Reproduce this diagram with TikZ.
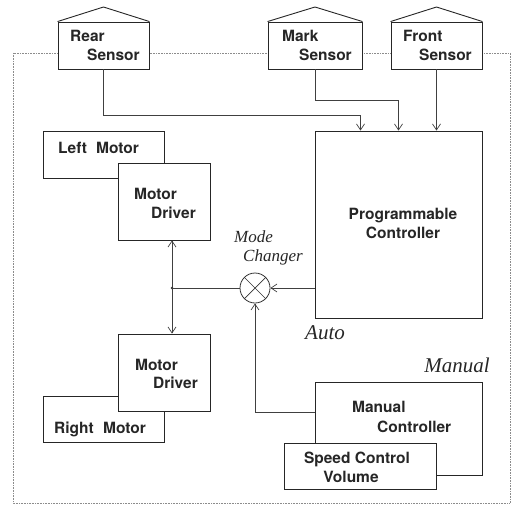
\documentclass[tikz,border=0pt]{standalone}
\usepackage{fontspec}
\newfontfamily\hv{TeX Gyre Heros}
\newfontfamily\tms{Liberation Serif}
\usetikzlibrary{arrows.meta,calc}
\begin{document}
\begin{tikzpicture}[x=1pt,y=-1pt,
  box/.style={draw=black!85,fill=white,line width=0.9pt,inner sep=0pt,rectangle},
  lbl/.style={inner sep=0pt,anchor=west,text height=11pt,text depth=0pt,font=\hv\bfseries\fontsize{15.5}{18}\selectfont,text=black!85},
  clbl/.style={lbl,anchor=center},
  itl/.style={inner sep=0pt,anchor=west,text height=11pt,text depth=0pt,font=\tms\fontsize{17}{20}\selectfont\itshape,text=black!85},
  bitl/.style={inner sep=0pt,text height=13pt,text depth=0pt,font=\tms\fontsize{21}{24}\selectfont\itshape,text=black!85},
  conn/.style={draw=black!75,line width=0.7pt},
  arr/.style={conn,-{Straight Barb[length=6pt,width=8pt,line width=0.7pt]}},
  darr/.style={conn,{Straight Barb[length=6pt,width=8pt,line width=0.7pt]}-{Straight Barb[length=6pt,width=8pt,line width=0.7pt]}},
  roof/.style={draw=black!85,fill=white,line width=0.9pt,line join=miter}]
\useasboundingbox (0,0) rectangle (521,508);
% dotted border
\draw[densely dotted,black!45,line width=0.6pt] (13,53) rectangle (510,503);

% sensors (houses)
\node[box,minimum width=91pt,minimum height=47pt] (rear) at (103.5,45.5) {};
\draw[roof] (rear.north west) -- (103.5,7) -- (rear.north east);
\node[box,minimum width=94pt,minimum height=47pt] (mark) at (315,45.5) {};
\draw[roof] (mark.north west) -- (315,7) -- (mark.north east);
\node[box,minimum width=91pt,minimum height=47pt] (front) at (436.5,45.5) {};
\draw[roof] (front.north west) -- (436.5,7) -- (front.north east);
\node[lbl] (t1) at (70,36) {Rear};
\node[lbl] (t2) at (87,55) {Sensor};
\node[lbl] (t3) at (282,36) {Mark};
\node[lbl] (t4) at (299,55) {Sensor};
\node[lbl] (t5) at (403,36) {Front};
\node[lbl] (t6) at (419,55) {Sensor};

% programmable controller
\node[box,minimum width=167pt,minimum height=187pt] (pc) at (398.5,224.5) {};
\node[clbl] (t7) at (403,214) {Programmable};
\node[clbl] (t8) at (403,233) {Controller};

% sensor connectors
\draw[arr] (rear.south) -- ++(0,46) -| ([xshift=-38pt]pc.north);
\draw[arr] (mark.south) -- ++(0,31) -| (pc.north);
\draw[arr] (front.south) -- (front.south |- pc.north);

% left motor + driver
\node[box,minimum width=121pt,minimum height=47pt] (lm) at (103.5,154.5) {};
\node[lbl] (t9) at (58,148) {Left\hspace{0.6em}Motor};
\node[box,minimum width=92pt,minimum height=77pt] (md1) at (164,201.5) {};
\node[lbl] (t10) at (134,194) {Motor};
\node[lbl] (t11) at (151,213) {Driver};

% right motor + driver
\node[box,minimum width=121pt,minimum height=46pt] (rm) at (103.5,419) {};
\node[lbl] (t12) at (54,428) {Right\hspace{0.6em}Motor};
\node[box,minimum width=92pt,minimum height=77pt] (md2) at (164,372.5) {};
\node[lbl] (t13) at (135,365) {Motor};
\node[lbl] (t14) at (153,383) {Driver};

% manual controller + speed control
\node[box,minimum width=167pt,minimum height=93pt] (man) at (398.5,428.5) {};
\node[lbl] (t15) at (352,407) {Manual};
\node[lbl] (t16) at (377,427) {Controller};
\node[box,minimum width=152pt,minimum height=46pt] (spd) at (360,466) {};
\node[clbl] (t17) at (357,458) {Speed Control};
\node[clbl] (t18) at (351,477) {Volume};

% mode changer
\node[draw=black!80,line width=0.8pt,circle,minimum size=30pt,inner sep=0pt,fill=white] (mc) at (255,288) {};
\draw[black!80,line width=0.7pt] (mc.north west) -- (mc.south east) (mc.north east) -- (mc.south west);
\node[itl] (t19) at (234,237) {Mode};
\node[itl] (t20) at (243,256) {Changer};
\node[bitl,anchor=west] (t21) at (305,333) {Auto};
\node[bitl,anchor=east] (t22) at (490,366) {Manual};

% connectors around mode changer
\draw[darr] ([xshift=8pt]md1.south) -- ([xshift=8pt]md2.north);
\coordinate (j) at ([xshift=8pt]md1.south |- mc);
\fill[black!80] (j) circle (1.3pt);
\draw[conn] (j) -- (mc.west);
\draw[arr] (pc.west |- mc) -- (mc.east);
\draw[arr] ([yshift=16.5pt]man.west) -| (mc.south);
\end{tikzpicture}
\end{document}
